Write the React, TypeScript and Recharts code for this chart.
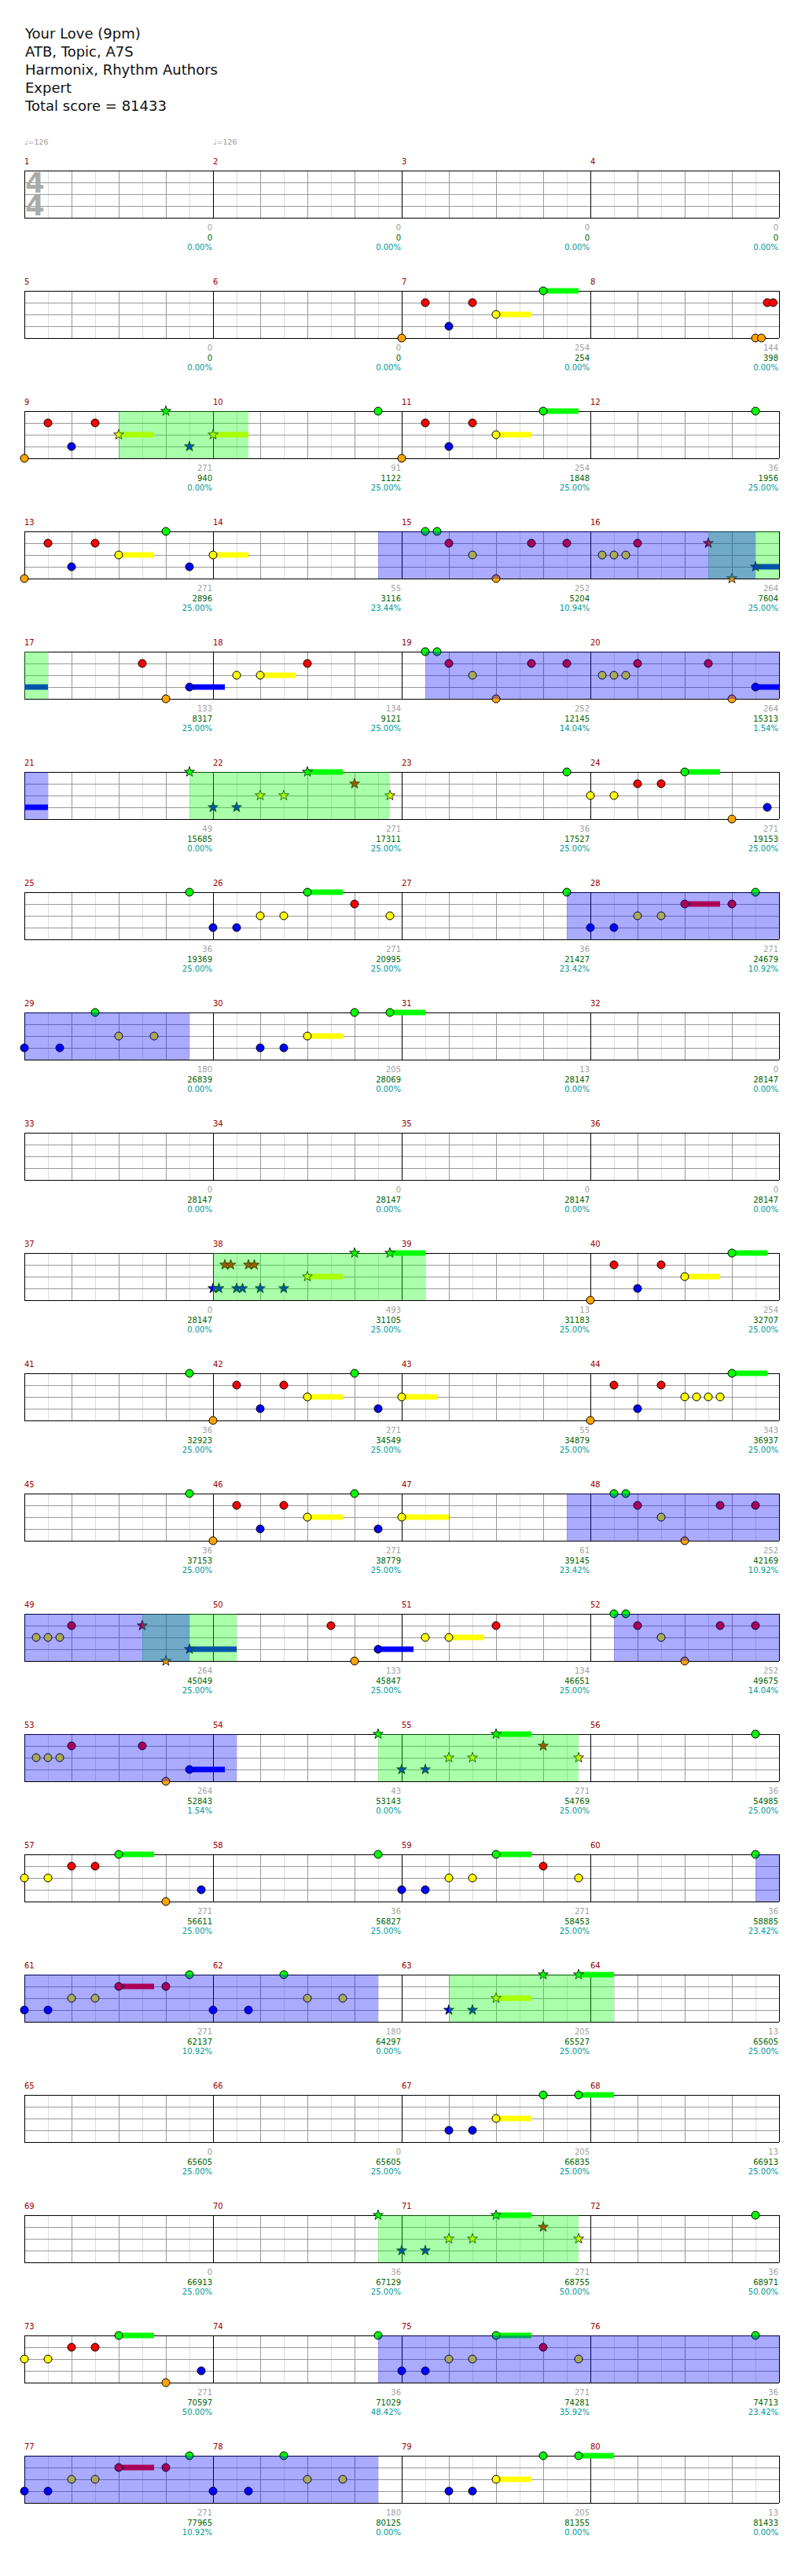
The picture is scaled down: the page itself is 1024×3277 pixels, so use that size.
import React from 'react';
import { ComposedChart, Scatter, XAxis, YAxis, ReferenceLine, ReferenceArea } from 'recharts';

// song header
const titleLines = ['Your Love (9pm)', 'ATB, Topic, A7S', 'Harmonix, Rhythm Authors', 'Expert', 'Total score = 81433'];

// tempo marks and time signature (beat positions)
const tempoMarks = [
  { beat: 0, bpm: 126 },
  { beat: 4, bpm: 126 },
];
const timeSignature = { beat: 0, top: 4, bottom: 4 };

// notes per fret: [beat, sustain length in beats]
const greenNotes: [number, number][] = [
  [27, 0.75], [35, 0], [39.5, 0], [43, 0.75], [47.5, 0], [51, 0], [56.5, 0], [56.75, 0], [72.5, 0], [72.75, 0],
  [83.5, 0], [86, 0.75], [91.5, 0], [94, 0.75], [99.5, 0], [102, 0.75], [107.5, 0], [111.5, 0], [113.5, 0], [119, 0],
  [119.75, 0.75], [151, 0], [151.75, 0.75], [159, 0.75], [163.5, 0], [167, 0], [175, 0.75], [179.5, 0], [183, 0],
  [188.5, 0], [188.75, 0], [204.5, 0], [204.75, 0], [215.5, 0], [218, 0.75], [223.5, 0], [226, 0.75], [231.5, 0],
  [234, 0.75], [239.5, 0], [243.5, 0], [245.5, 0], [251, 0], [251.75, 0.75], [267, 0], [267.75, 0.75], [279.5, 0],
  [282, 0.75], [287.5, 0], [290, 0.75], [295.5, 0], [298, 0.75], [303.5, 0], [307.5, 0], [309.5, 0], [315, 0],
  [315.75, 0.75],
];
const redNotes: [number, number][] = [
  [24.5, 0], [25.5, 0], [31.75, 0], [31.875, 0], [32.5, 0], [33.5, 0], [40.5, 0], [41.5, 0], [48.5, 0], [49.5, 0],
  [57, 0], [58.75, 0], [59.5, 0], [61, 0], [62.5, 0], [66.5, 0], [70, 0], [73, 0], [74.75, 0], [75.5, 0], [77, 0],
  [78.5, 0], [87, 0], [93, 0], [93.5, 0], [103, 0], [110, 0.75], [111, 0], [148.25, 0], [148.375, 0], [148.75, 0],
  [148.875, 0], [156.5, 0], [157.5, 0], [164.5, 0], [165.5, 0], [172.5, 0], [173.5, 0], [180.5, 0], [181.5, 0],
  [189, 0], [190.75, 0], [191.5, 0], [193, 0], [194.5, 0], [198.5, 0], [202, 0], [205, 0], [206.75, 0], [207.5, 0],
  [209, 0], [210.5, 0], [219, 0], [225, 0], [225.5, 0], [235, 0], [242, 0.75], [243, 0], [283, 0], [289, 0],
  [289.5, 0], [299, 0], [306, 0.75], [307, 0],
];
const yellowNotes: [number, number][] = [
  [26, 0.75], [34, 0.75], [36, 0.75], [42, 0.75], [50, 0.75], [52, 0.75], [57.5, 0], [60.25, 0], [60.5, 0], [60.75, 0],
  [68.5, 0], [69, 0.75], [73.5, 0], [76.25, 0], [76.5, 0], [76.75, 0], [85, 0], [85.5, 0], [87.75, 0], [92, 0],
  [92.5, 0], [101, 0], [101.5, 0], [103.75, 0], [109, 0], [109.5, 0], [114, 0], [114.75, 0], [118, 0.75], [150, 0.75],
  [158, 0.75], [166, 0.75], [168, 0.75], [174, 0], [174.25, 0], [174.5, 0], [174.75, 0], [182, 0.75], [184, 1],
  [189.5, 0], [192.25, 0], [192.5, 0], [192.75, 0], [200.5, 0], [201, 0.75], [205.5, 0], [208.25, 0], [208.5, 0],
  [208.75, 0], [217, 0], [217.5, 0], [219.75, 0], [224, 0], [224.5, 0], [233, 0], [233.5, 0], [235.75, 0], [241, 0],
  [241.5, 0], [246, 0], [246.75, 0], [250, 0.75], [266, 0.75], [281, 0], [281.5, 0], [283.75, 0], [288, 0],
  [288.5, 0], [297, 0], [297.5, 0], [299.75, 0], [305, 0], [305.5, 0], [310, 0], [310.75, 0], [314, 0.75],
];
const blueNotes: [number, number][] = [
  [25, 0], [33, 0], [35.5, 0], [41, 0], [49, 0], [51.5, 0], [63.5, 1], [67.5, 0.75], [79.5, 1], [84, 0], [84.5, 0],
  [95.75, 0], [100, 0], [100.5, 0], [108, 0], [108.5, 0], [112, 0], [112.75, 0], [117, 0], [117.5, 0], [148, 0],
  [148.125, 0], [148.5, 0], [148.625, 0], [149, 0], [149.5, 0], [157, 0], [165, 0], [167.5, 0], [173, 0], [181, 0],
  [183.5, 0], [195.5, 1], [199.5, 0.75], [211.5, 0.75], [216, 0], [216.5, 0], [227.75, 0], [232, 0], [232.5, 0],
  [240, 0], [240.5, 0], [244, 0], [244.75, 0], [249, 0], [249.5, 0], [265, 0], [265.5, 0], [280, 0], [280.5, 0],
  [291.75, 0], [296, 0], [296.5, 0], [304, 0], [304.5, 0], [308, 0], [308.75, 0], [313, 0], [313.5, 0],
];
const orangeNotes: [number, number][] = [
  [24, 0], [31.5, 0], [31.625, 0], [32, 0], [40, 0], [48, 0], [58, 0], [63, 0], [67, 0], [74, 0], [79, 0], [95, 0],
  [156, 0], [164, 0], [172, 0], [180, 0], [190, 0], [195, 0], [199, 0], [206, 0], [211, 0], [227, 0], [291, 0],
];

// star power phrases and overdrive activations: [startBeat, endBeat]
const starPhrases: [number, number][] = [
  [34, 36.75], [62.5, 64.5], [83.5, 87.75], [148, 152.5], [194.5, 196.5], [215.5, 219.75], [249, 252.5], [279.5, 283.75],
];
const overdrive: [number, number][] = [
  [55.5, 63.5], [72.5, 80.5], [107.5, 115.5], [187.5, 195.5], [204.5, 212.5], [239.5, 247.5], [295.5, 311.5],
];

// per-measure numbers printed under each bar line
const measureScores = [
  0, 0, 0, 0, 0, 0, 254, 144, 271, 91, 254, 36, 271, 55, 252, 264, 133, 134, 252, 264,
  49, 271, 36, 271, 36, 271, 36, 271, 180, 205, 13, 0, 0, 0, 0, 0, 0, 493, 13, 254,
  36, 271, 55, 343, 36, 271, 61, 252, 264, 133, 134, 252, 264, 43, 271, 36, 271, 36, 271, 36,
  271, 180, 205, 13, 0, 0, 205, 13, 0, 36, 271, 36, 271, 36, 271, 36, 271, 180, 205, 13,
];
const totalScores = [
  0, 0, 0, 0, 0, 0, 254, 398, 940, 1122, 1848, 1956, 2896, 3116, 5204, 7604, 8317, 9121, 12145, 15313,
  15685, 17311, 17527, 19153, 19369, 20995, 21427, 24679, 26839, 28069, 28147, 28147, 28147, 28147, 28147, 28147,
  28147, 31105, 31183, 32707, 32923, 34549, 34879, 36937, 37153, 38779, 39145, 42169, 45049, 45847, 46651, 49675,
  52843, 53143, 54769, 54985, 56611, 56827, 58453, 58885, 62137, 64297, 65527, 65605, 65605, 65605, 66835, 66913,
  66913, 67129, 68755, 68971, 70597, 71029, 74281, 74713, 77965, 80125, 81355, 81433,
];
const percents = [
  0, 0, 0, 0, 0, 0, 0, 0, 0, 25, 25, 25, 25, 23.44, 10.94, 25, 25, 25, 14.04, 1.54,
  0, 25, 25, 25, 25, 25, 23.42, 10.92, 0, 0, 0, 0, 0, 0, 0, 0, 0, 25, 25, 25,
  25, 25, 25, 25, 25, 25, 23.42, 10.92, 25, 25, 25, 14.04, 1.54, 0, 25, 25, 25, 25, 25, 23.42,
  10.92, 0, 25, 25, 25, 25, 25, 25, 25, 25, 50, 50, 50, 48.42, 35.92, 23.42, 10.92, 0, 0, 0,
];

const LANE_COLORS = ['#00ff00', '#ff0000', '#ffff00', '#0000ff', '#ffa500'];
const ROWS = 20;
const ROW_BEATS = 16;
const FONT = '"DejaVu Sans", Verdana, sans-serif';

const allNotes = [greenNotes, redNotes, yellowNotes, blueNotes, orangeNotes]
  .flatMap((list, lane) =>
    list.map(([beat, len]) => ({
      x: beat,
      y: lane,
      lane,
      len,
      star: starPhrases.some(([a, b]) => beat >= a && beat <= b),
    }))
  )
  .sort((a, b) => a.x - b.x);

const NoteShape = (props: any) => {
  const { cx, cy, payload } = props;
  if (cx == null || cy == null) return null;
  const fill = LANE_COLORS[payload.lane];
  if (payload.star) {
    const pts: string[] = [];
    for (let i = 0; i < 10; i++) {
      const r = i % 2 === 0 ? 6.8 : 2.7;
      const a = -Math.PI / 2 + (i * Math.PI) / 5;
      pts.push(`${cx + r * Math.cos(a)},${cy + r * Math.sin(a)}`);
    }
    return <polygon points={pts.join(' ')} fill={fill} stroke="#000" strokeWidth={0.8} />;
  }
  return <circle cx={cx} cy={cy} r={5} fill={fill} stroke="#000" strokeWidth={1} />;
};

const TopTick = (props: any) => {
  const { x, y, payload } = props;
  const beat = payload.value;
  const tempo = tempoMarks.find((t) => t.beat === beat);
  const showSig = timeSignature.beat === beat;
  return (
    <g>
      {tempo && (
        <text x={x} y={y - 33} fill="#999" fontSize={9.5} fontFamily={FONT}>
          {`♩=${tempo.bpm}`}
        </text>
      )}
      <text x={x} y={y - 8} fill="#990000" fontSize={10} fontFamily={FONT}>
        {beat / 4 + 1}
      </text>
      {showSig && (
        <text
          x={x + 13.5}
          y={y + 28}
          fill="#aaaaaa"
          fontSize={35}
          fontWeight="bold"
          fontFamily={FONT}
          textAnchor="middle"
        >
          <tspan x={x + 13.5}>{timeSignature.top}</tspan>
          <tspan x={x + 13.5} dy={29}>{timeSignature.bottom}</tspan>
        </text>
      )}
    </g>
  );
};

const BottomTick = (props: any) => {
  const { x, y, payload } = props;
  const m = payload.value / 4 - 1;
  return (
    <g fontSize={10} fontFamily={FONT} textAnchor="end">
      <text x={x - 1} y={y + 16} fill="#a0a0a0">{measureScores[m]}</text>
      <text x={x - 1} y={y + 28.5} fill="#006400">{totalScores[m]}</text>
      <text x={x - 1} y={y + 41} fill="#009999">{`${percents[m].toFixed(2)}%`}</text>
    </g>
  );
};

const StaffRow = ({ row }: { row: number }) => {
  const start = row * ROW_BEATS;
  const end = start + ROW_BEATS;
  const notes = allNotes.filter((n) => n.x >= start && n.x < end);
  const holds = allNotes.filter((n) => n.len > 0 && n.x < end && n.x + n.len > start);
  const measureStarts = [0, 1, 2, 3].map((i) => start + i * 4);
  const measureEnds = measureStarts.map((b) => b + 4);
  const gridXs = Array.from({ length: 33 }, (_, k) => start + k * 0.5);
  // bar lines of the row; they also give the staff axes their extent
  const barLines = [start, ...measureEnds].map((x, i) => ({ x, y: i === 0 ? 0 : 4 }));
  const clip = (ranges: [number, number][]) =>
    ranges
      .filter(([a, b]) => a < end && b > start)
      .map(([a, b]) => [Math.max(a, start), Math.min(b, end)]);

  return (
    <div style={{ height: 153 }}>
      <ComposedChart
        width={1000}
        height={153}
        data={barLines}
        margin={{ top: 0, right: 17, bottom: 0, left: 23 }}
      >
        <XAxis
          xAxisId="top"
          orientation="top"
          type="number"
          dataKey="x"
          domain={[start, end]}
          ticks={measureStarts}
          height={45}
          axisLine={false}
          tickLine={false}
          tickSize={0}
          tickMargin={0}
          interval={0}
          tick={(p: any) => <TopTick {...p} />}
        />
        <XAxis
          type="number"
          dataKey="x"
          domain={[start, end]}
          ticks={measureEnds}
          height={48}
          axisLine={false}
          tickLine={false}
          tickSize={0}
          tickMargin={0}
          interval={0}
          tick={(p: any) => <BottomTick {...p} />}
        />
        <XAxis xAxisId="notes" type="number" dataKey="x" domain={[start, end]} hide />
        <YAxis type="number" dataKey="y" domain={[0, 4]} reversed hide />
        <YAxis yAxisId="notes" type="number" dataKey="y" domain={[0, 4]} reversed hide />
        {gridXs
          .filter((_, k) => k % 2 === 1)
          .map((v) => (
            <ReferenceLine key={`h${v}`} x={v} stroke="#dddddd" strokeWidth={1} shapeRendering="crispEdges" />
          ))}
        {[1, 2, 3].map((v) => (
          <ReferenceLine key={`l${v}`} y={v} stroke="#999999" strokeWidth={1} shapeRendering="crispEdges" />
        ))}
        {gridXs
          .filter((_, k) => k % 2 === 0 && k % 8 !== 0)
          .map((v) => (
            <ReferenceLine key={`b${v}`} x={v} stroke="#999999" strokeWidth={1} shapeRendering="crispEdges" />
          ))}
        {gridXs
          .filter((_, k) => k % 8 === 0)
          .map((v) => (
            <ReferenceLine key={`m${v}`} x={v} stroke="#000" strokeWidth={1} shapeRendering="crispEdges" />
          ))}
        {[0, 4].map((v) => (
          <ReferenceLine key={`e${v}`} y={v} stroke="#000" strokeWidth={1} shapeRendering="crispEdges" />
        ))}
        {holds.map((n) => (
          <ReferenceLine
            key={`s${n.x}-${n.lane}`}
            segment={[
              { x: Math.max(n.x, start), y: n.lane },
              { x: Math.min(n.x + n.len, end), y: n.lane },
            ]}
            stroke={LANE_COLORS[n.lane]}
            strokeWidth={7}
          />
        ))}
        <Scatter
          xAxisId="notes"
          yAxisId="notes"
          data={notes}
          shape={NoteShape}
          isAnimationActive={false}
        />
        {clip(starPhrases).map(([a, b]) => (
          <ReferenceArea key={`g${a}`} x1={a} x2={b} fill="#00ff00" fillOpacity={0.333} stroke="none" zIndex={700} />
        ))}
        {clip(overdrive).map(([a, b]) => (
          <ReferenceArea key={`o${a}`} x1={a} x2={b} fill="#0000ff" fillOpacity={0.333} stroke="none" zIndex={700} />
        ))}
      </ComposedChart>
    </div>
  );
};

export default function App() {
  return (
    <div style={{ width: 1008, background: '#fff' }}>
      <div
        style={{
          height: 164,
          boxSizing: 'border-box',
          paddingTop: 23,
          paddingLeft: 24,
          fontFamily: FONT,
          fontSize: 18,
          lineHeight: '23px',
          color: '#111',
        }}
      >
        {titleLines.map((t) => (
          <div key={t}>{t}</div>
        ))}
      </div>
      {Array.from({ length: ROWS }, (_, r) => (
        <StaffRow key={r} row={r} />
      ))}
    </div>
  );
}
